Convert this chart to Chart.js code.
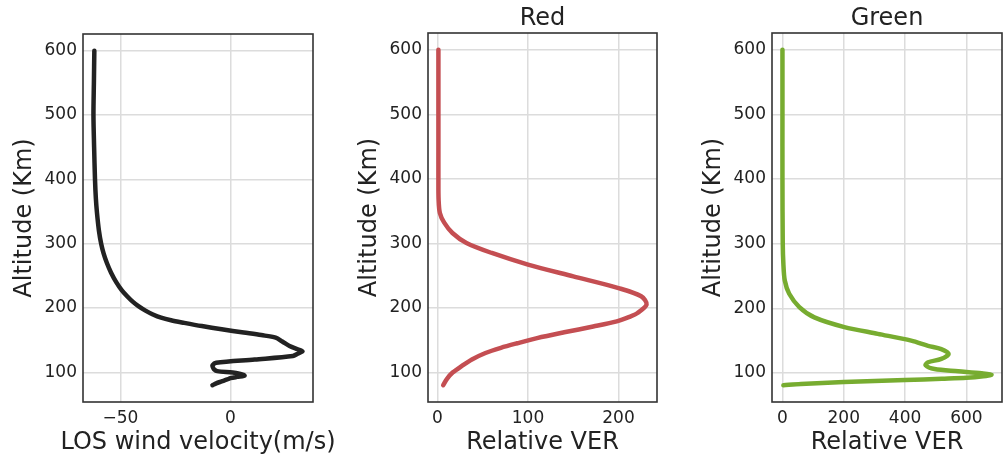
<!DOCTYPE html>
<html>
<head>
<meta charset="utf-8">
<script src="https://cdn.jsdelivr.net/npm/chart.js@4/dist/chart.umd.min.js"></script>
<style>
  body { margin: 0; background: #fff; }
  #wrap { position: relative; width: 1003px; height: 456px; overflow: hidden; }
  canvas { position: absolute; top: 0; }
</style>
</head>
<body>
<div id="wrap">
  <canvas id="c1" width="345" height="456" style="left:0px"></canvas>
  <canvas id="c2" width="330" height="456" style="left:345px"></canvas>
  <canvas id="c3" width="314" height="456" style="left:689px"></canvas>
</div>
<script>
// altitude ticks shared by all panels
const altTicks = [100, 200, 300, 400, 500, 600];

// LOS wind velocity (m/s) vs altitude (km)
const windAlt = [600, 550, 500, 450, 400, 370, 348, 320, 300, 285, 270, 255, 240, 228, 218, 210, 203, 196, 190, 185,
  181, 177, 172, 167, 162, 158, 154, 148, 141, 136, 132.7, 129, 125.4, 120, 115, 111, 108, 105, 102, 100,
  98, 95, 93, 91, 89, 86, 83, 80];
const windVel = [-61.8, -62.0, -62.2, -61.9, -61.5, -61.1, -60.6, -59.7, -58.7, -57.6, -56.1, -54.2, -51.8, -49.4, -46.8, -44.4, -41.8, -38.6, -35.2, -31.5,
  -27, -21, -13, -4, 6, 14, 20.5, 23.5, 26.8, 30.5, 32.7, 30.5, 28.3, 11, -6.5, -8.2, -8, -7.5, -6, 1,
  4, 6.4, 3, 0, -1.5, -4, -6.5, -8.2];
const windTicks = [-50, 0];

// red line relative VER
const redAlt = [600, 500, 445, 400, 368, 347, 332, 316, 300.5, 285, 267, 248.7, 230.6, 218, 205, 192, 186, 179, 171, 162,
  153, 145, 138, 130, 120, 110, 100, 90, 80];
const redVer = [1, 1, 1, 1, 1.2, 2.6, 7.4, 16.5, 32, 60, 100, 150, 200, 225, 231, 221, 212, 198, 172, 140,
  110, 88, 70, 53, 38, 27, 17, 10.5, 6.3];
const redTicks = [0, 100, 200];

// green line relative VER
const greenAlt = [600, 500, 400, 300, 269, 243, 222.5, 202, 186, 171, 160.5, 150, 142, 137, 129.5, 121.7, 116.5, 112, 106, 102.7,
  99.5, 97.4, 95, 92.5, 91, 89, 86, 83, 81];
const greenVer = [0, 0, 0, 1, 3, 7.6, 22, 55, 104, 202, 311, 420, 475, 518, 542, 518, 475, 467, 496, 573,
  650, 682, 655, 600, 520, 400, 200, 60, 3];
const greenTicks = [0, 200, 400, 600];

const FONT = '"DejaVu Sans", sans-serif';
const TXT = '#222';

function pad(arr) {
  const lo = Math.min(...arr), hi = Math.max(...arr);
  const m = (hi - lo) * 0.05;
  return [lo - m, hi + m];
}

const frame = {
  id: 'frame',
  afterDatasetsDraw(chart, args, opts) {
    const { ctx, chartArea: a } = chart;
    ctx.save();
    ctx.strokeStyle = '#333';
    ctx.lineWidth = 1.6;
    ctx.strokeRect(a.left, a.top, a.right - a.left, a.bottom - a.top);
    ctx.fillStyle = TXT;
    ctx.font = '24px ' + FONT;
    ctx.textAlign = 'center';
    ctx.textBaseline = 'alphabetic';
    ctx.fillText(opts.xTitle, (a.left + a.right) / 2, 449);
    ctx.restore();
  }
};

function panel(id, alt, vals, color, xTicks, xTitle, title) {
  const [xmin, xmax] = pad(vals);
  const [ymin, ymax] = pad(alt);
  return new Chart(document.getElementById(id), {
    type: 'scatter',
    data: {
      datasets: [{
        data: alt.map((a, i) => ({ x: vals[i], y: a })),
        showLine: true,
        borderColor: color,
        borderWidth: 4.5,
        pointRadius: 0,
        tension: 0.3,
        borderCapStyle: 'round',
        borderJoinStyle: 'round'
      }]
    },
    options: {
      responsive: false,
      animation: false,
      layout: { padding: { left: 0, right: id == 'c1' ? 32 : (id == 'c2' ? 18 : 1), top: title ? 0 : 34, bottom: 0 } },
      plugins: {
        legend: { display: false },
        tooltip: { enabled: false },
        title: {
          display: !!title,
          text: title,
          fullSize: false,
          color: TXT,
          font: { family: FONT, size: 24, weight: 'normal' },
          padding: { top: 4, bottom: 0.2 }
        },
        frame: { xTitle: xTitle }
      },
      scales: {
        x: {
          type: 'linear',
          min: xmin, max: xmax,
          afterBuildTicks: s => { s.ticks = xTicks.map(v => ({ value: v })); },
          afterFit: s => { s.height = 54; },
          grid: { color: '#dcdcdc', lineWidth: 1.5, drawTicks: false },
          border: { display: false },
          ticks: {
            padding: 6, maxRotation: 0, autoSkip: false, color: TXT,
            font: { family: FONT, size: 17 },
            callback: v => String(v).replace('-', '\u2212')
          }
        },
        y: {
          type: 'linear',
          min: ymin, max: ymax,
          afterBuildTicks: s => { s.ticks = altTicks.map(v => ({ value: v })); },
          afterFit: s => { s.width = 83; },
          grid: { color: '#dcdcdc', lineWidth: 1.5, drawTicks: false },
          border: { display: false },
          title: {
            display: true, text: 'Altitude (Km)', color: TXT,
            font: { family: FONT, size: 24 },
            padding: { top: 10, bottom: 0 }
          },
          ticks: {
            padding: 6, autoSkip: false, color: TXT,
            font: { family: FONT, size: 17 }
          }
        }
      }
    },
    plugins: [frame]
  });
}

panel('c1', windAlt, windVel, '#222222', windTicks, 'LOS wind velocity(m/s)', '');
panel('c2', redAlt, redVer, '#c44e52', redTicks, 'Relative VER', 'Red');
panel('c3', greenAlt, greenVer, '#77ac30', greenTicks, 'Relative VER', 'Green');
</script>
</body>
</html>
